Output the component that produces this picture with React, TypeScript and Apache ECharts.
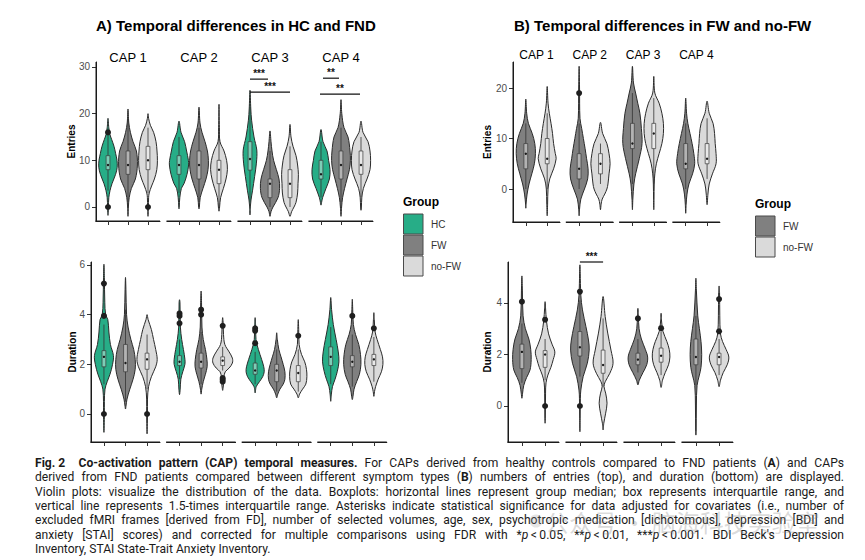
import React, { useEffect, useRef } from "react";
import * as echarts from "echarts";

type Profile = [number, number][]; // [value, half-width in category units], bottom tip -> top tip
type Box = [number, number, number, number, number]; // whisker low, q1, median, q3, whisker high

const capLabels = ["CAP 1", "CAP 2", "CAP 3", "CAP 4"];
const groupsA = ["HC", "FW", "no-FW"];
const groupsB = ["FW", "no-FW"];
const groupColors: Record<string, string> = { HC: "#27ad87", FW: "#808080", "no-FW": "#dadada" };

const entriesTicksA = [0, 10, 20, 30];
const durationTicksA = [0, 2, 4, 6];
const entriesTicksB = [0, 10, 20];
const durationTicksB = [0, 2, 4];

// ---------- A) entries: HC / FW / no-FW ----------
const entriesViolinsA: Profile[][] = [
  [
    [[-1.8, 0], [0, 0.02], [2, 0.04], [3.5, 0.1], [5, 0.2], [7, 0.38], [8.5, 0.46], [10, 0.45], [11.5, 0.38], [13, 0.3], [14.5, 0.18], [15.5, 0.1], [17, 0.04], [19, 0]],
    [[-2, 0], [0, 0.02], [2, 0.06], [4, 0.17], [6, 0.37], [9, 0.47], [12, 0.42], [14, 0.25], [16, 0.12], [18, 0.04], [21, 0]],
    [[-2, 0], [0, 0.02], [2, 0.03], [3, 0.06], [4.5, 0.18], [6, 0.32], [8, 0.44], [10, 0.47], [12, 0.45], [14, 0.4], [16, 0.28], [17.5, 0.12], [19, 0.03], [20, 0]],
  ],
  [
    [[-0.4, 0], [0, 0.01], [2, 0.04], [4, 0.12], [5, 0.25], [7, 0.4], [9, 0.48], [10, 0.47], [12, 0.38], [14, 0.28], [16, 0.1], [18.4, 0]],
    [[-0.4, 0], [0, 0.02], [2, 0.06], [4, 0.2], [6, 0.35], [8, 0.45], [10, 0.47], [12, 0.42], [14, 0.3], [16, 0.15], [18, 0.05], [21.4, 0]],
    [[-0.9, 0], [0, 0.03], [2, 0.08], [4, 0.22], [6, 0.35], [8, 0.42], [10, 0.38], [12, 0.25], [14, 0.05], [17, 0.02], [22, 0]],
  ],
  [
    [[-1.7, 0], [0, 0.015], [1.5, 0.05], [3.6, 0.13], [6.5, 0.23], [9.4, 0.32], [12.2, 0.34], [15, 0.2], [18.6, 0.08], [21, 0.04], [25, 0]],
    [[-2, 0], [-1, 0.05], [0, 0.15], [2, 0.4], [4, 0.48], [6, 0.45], [8, 0.32], [10, 0.18], [12, 0.1], [14, 0.05], [16.3, 0]],
    [[-2, 0], [-1, 0.08], [0, 0.2], [1, 0.3], [3, 0.38], [5, 0.4], [7, 0.42], [9, 0.38], [11, 0.3], [13, 0.15], [15, 0.05], [17.7, 0]],
  ],
  [
    [[0.4, 0], [1, 0.03], [2, 0.08], [4, 0.25], [6, 0.42], [8, 0.45], [10, 0.38], [12, 0.3], [14, 0.1], [16.6, 0]],
    [[-2, 0], [0, 0.03], [2, 0.08], [4, 0.18], [6, 0.3], [8, 0.42], [10, 0.47], [12, 0.45], [15, 0.35], [17, 0.15], [20, 0.04], [23, 0]],
    [[-0.7, 0], [0, 0.02], [2, 0.04], [4, 0.12], [6, 0.3], [8, 0.45], [10, 0.48], [12, 0.45], [14, 0.35], [16, 0.1], [18.4, 0]],
  ],
];
const entriesBoxesA: Box[][] = [
  [[3.5, 8, 9, 11, 15.5], [0, 7, 9, 12, 19], [3, 8, 10, 13, 17]],
  [[3, 7, 9, 11, 15], [1, 6, 9, 12, 17], [0, 5, 8, 10, 17]],
  [[1, 7.9, 10.3, 14, 22], [0, 2, 5, 6, 12], [0, 2, 5, 8, 13]],
  [[2, 6, 7, 10, 14], [1, 6, 9, 12, 17], [2, 7, 9, 12, 15]],
];
const entriesOutliersA: number[][][] = [
  [[0, 16], [], [0]],
  [[], [], []],
  [[], [], []],
  [[], [], []],
];
// [cap index, from, to, height, label]
const entriesSignifA: [number, number, number, number, string][] = [
  [2, 1, 1.9, 27.4, "***"],
  [2, 1, 3, 24.6, "***"],
  [3, 1.1, 1.9, 27.6, "**"],
  [3, 0.95, 2.95, 24.2, "**"],
];

// ---------- A) duration ----------
const durationViolinsA: Profile[][] = [
  [
    [[-0.74, 0], [0, 0.02], [0.5, 0.02], [1, 0.05], [1.3, 0.15], [1.6, 0.28], [2, 0.4], [2.35, 0.44], [2.8, 0.3], [3.3, 0.23], [3.8, 0.18], [4, 0.08], [4.5, 0.04], [5.5, 0.02], [6.03, 0]],
    [[0.2, 0], [0.3, 0.02], [0.6, 0.07], [1, 0.2], [1.4, 0.35], [1.8, 0.45], [2.2, 0.45], [2.6, 0.38], [3, 0.25], [3.5, 0.12], [4, 0.05], [5, 0.02], [5.5, 0]],
    [[-0.8, 0], [0, 0.02], [0.6, 0.02], [1.1, 0.07], [1.5, 0.2], [1.9, 0.4], [2.2, 0.47], [2.6, 0.4], [3, 0.3], [3.4, 0.2], [3.8, 0.05], [4, 0]],
  ],
  [
    [[0.78, 0], [1, 0.03], [1.4, 0.06], [1.7, 0.15], [2, 0.25], [2.2, 0.25], [2.6, 0.18], [3, 0.1], [3.5, 0.04], [4.5, 0.02], [4.6, 0]],
    [[0.8, 0], [1, 0.03], [1.3, 0.1], [1.6, 0.2], [1.9, 0.28], [2.2, 0.27], [2.6, 0.2], [3, 0.1], [3.5, 0.04], [4.5, 0.02], [4.95, 0]],
    [[0.95, 0], [1.05, 0.02], [1.2, 0.04], [1.5, 0.06], [1.7, 0.12], [1.85, 0.3], [2.05, 0.45], [2.25, 0.45], [2.5, 0.3], [2.8, 0.1], [3.2, 0.04], [3.7, 0.02], [3.88, 0]],
  ],
  [
    [[0.85, 0], [1.1, 0.05], [1.3, 0.2], [1.5, 0.35], [1.7, 0.42], [1.9, 0.4], [2.2, 0.3], [2.6, 0.15], [3, 0.04], [3.6, 0.02], [3.88, 0]],
    [[0.65, 0], [0.8, 0.05], [1, 0.15], [1.2, 0.3], [1.4, 0.38], [1.7, 0.38], [2, 0.3], [2.3, 0.2], [2.6, 0.1], [3, 0.03], [3.27, 0]],
    [[0.65, 0], [0.8, 0.06], [1, 0.2], [1.2, 0.35], [1.5, 0.4], [1.8, 0.38], [2.1, 0.3], [2.4, 0.15], [2.8, 0.04], [3.4, 0.02], [3.8, 0]],
  ],
  [
    [[0.51, 0], [0.8, 0.03], [1.1, 0.08], [1.4, 0.2], [1.7, 0.3], [2.1, 0.38], [2.5, 0.35], [3, 0.25], [3.6, 0.12], [4.2, 0.04], [4.69, 0]],
    [[0.58, 0], [0.7, 0.03], [1, 0.08], [1.3, 0.2], [1.6, 0.33], [2, 0.4], [2.4, 0.38], [2.8, 0.3], [3.2, 0.15], [3.6, 0.05], [4.2, 0.02], [4.62, 0]],
    [[0.71, 0], [0.9, 0.03], [1.1, 0.08], [1.4, 0.2], [1.7, 0.35], [2, 0.42], [2.3, 0.4], [2.6, 0.3], [3, 0.15], [3.3, 0.06], [3.8, 0.02], [4.08, 0]],
  ],
];
const durationBoxesA: Box[][] = [
  [[1.2, 1.9, 2.3, 2.55, 3.6], [0.5, 1.7, 2.05, 2.8, 4.2], [1, 1.8, 2.2, 2.45, 3.2]],
  [[1.4, 1.95, 2.1, 2.35, 3], [1.2, 1.85, 2.1, 2.45, 3.3], [1.75, 1.95, 2.15, 2.3, 2.7]],
  [[1.2, 1.6, 1.75, 2.05, 2.5], [0.9, 1.3, 1.75, 2, 2.6], [0.9, 1.3, 1.65, 1.95, 2.6]],
  [[1.2, 1.95, 2.3, 2.7, 3.5], [1.1, 1.9, 2.1, 2.35, 3.2], [1.3, 1.95, 2.2, 2.4, 3.1]],
];
const durationOutliersA: number[][][] = [
  [[0, 3.95, 5.25], [], [0]],
  [[3.65, 3.95, 4.05], [4, 4.2], [1.3, 1.38, 1.45, 3.55]],
  [[2.85, 3.35, 3.45], [], [3.15]],
  [[], [3.95], [3.45]],
];
const durationSignifA: [number, number, number, number, string][] = [];

// ---------- B) entries: FW / no-FW ----------
const entriesViolinsB: Profile[][] = [
  [
    [[-3.8, 0], [-3, 0.01], [-1, 0.06], [1, 0.15], [3, 0.28], [5, 0.4], [7, 0.45], [9, 0.42], [11, 0.3], [13, 0.12], [15, 0.04], [17.8, 0]],
    [[-5.3, 0], [-3, 0.02], [0, 0.04], [2, 0.12], [4, 0.3], [6, 0.42], [7, 0.38], [9, 0.3], [11, 0.25], [13, 0.18], [15, 0.1], [17, 0.04], [20.3, 0]],
  ],
  [
    [[-5.3, 0], [-4, 0.02], [-2, 0.08], [0, 0.25], [2, 0.4], [4, 0.42], [6, 0.35], [8, 0.28], [10, 0.2], [12, 0.12], [14, 0.04], [20, 0.02], [24.3, 0]],
    [[-4.1, 0], [-3, 0.03], [-2, 0.08], [-1, 0.2], [0, 0.3], [1, 0.35], [3, 0.4], [5, 0.45], [7, 0.4], [9, 0.3], [11, 0.1], [13.2, 0]],
  ],
  [
    [[-4.1, 0], [-2, 0.02], [1, 0.07], [3, 0.15], [6, 0.32], [9, 0.45], [12, 0.42], [15, 0.35], [17, 0.25], [19, 0.15], [21, 0.05], [24.3, 0]],
    [[-4.1, 0], [-2, 0.01], [1, 0.02], [3, 0.05], [5, 0.12], [7, 0.25], [9, 0.38], [11, 0.45], [13, 0.45], [15, 0.38], [17, 0.25], [19, 0.05], [22.3, 0]],
  ],
  [
    [[-4.8, 0], [-3, 0.02], [-1, 0.06], [1, 0.15], [3, 0.32], [5, 0.42], [7, 0.38], [9, 0.3], [11, 0.2], [13, 0.1], [15, 0.04], [18, 0]],
    [[-3.1, 0], [-1, 0.04], [1, 0.1], [3, 0.25], [5, 0.42], [7, 0.42], [9, 0.38], [11, 0.35], [13, 0.28], [15, 0.1], [17.4, 0]],
  ],
];
const entriesBoxesB: Box[][] = [
  [[0, 4, 7, 9, 13], [0, 5, 6, 10, 15]],
  [[0, 2, 4, 7, 13], [1, 3, 5, 7, 9]],
  [[1, 8, 9, 13, 19], [1, 8, 11, 13, 18]],
  [[0, 4, 5, 9, 13], [2, 5, 6, 9, 14]],
];
const entriesOutliersB: number[][][] = [
  [[], []],
  [[19], []],
  [[], []],
  [[], []],
];
const entriesSignifB: [number, number, number, number, string][] = [];

// ---------- B) duration ----------
const durationViolinsB: Profile[][] = [
  [
    [[0.3, 0], [0.5, 0.03], [0.8, 0.08], [1.1, 0.2], [1.4, 0.35], [1.8, 0.4], [2.2, 0.38], [2.6, 0.3], [3, 0.15], [3.5, 0.05], [4.5, 0.02], [5.05, 0]],
    [[-0.67, 0], [-0.5, 0.01], [0.5, 0.02], [0.9, 0.04], [1.2, 0.12], [1.5, 0.25], [1.8, 0.35], [2.1, 0.42], [2.4, 0.3], [2.8, 0.15], [3.3, 0.06], [3.8, 0.02], [4.05, 0]],
  ],
  [
    [[-1, 0], [-0.5, 0.01], [0.3, 0.02], [0.62, 0.04], [1.14, 0.14], [1.66, 0.32], [2.17, 0.4], [2.56, 0.37], [3.08, 0.26], [3.73, 0.11], [4.3, 0.04], [5.48, 0]],
    [[-0.93, 0], [-0.67, 0.03], [-0.28, 0.11], [0.11, 0.17], [0.5, 0.11], [0.75, 0.04], [0.94, 0.09], [1.27, 0.29], [1.66, 0.43], [2.17, 0.34], [2.83, 0.2], [3.47, 0.09], [4.25, 0]],
  ],
  [
    [[0.82, 0], [1, 0.06], [1.3, 0.22], [1.6, 0.38], [1.9, 0.42], [2.2, 0.32], [2.6, 0.15], [3, 0.05], [3.5, 0.02], [3.79, 0]],
    [[0.72, 0], [1, 0.06], [1.3, 0.18], [1.6, 0.32], [1.9, 0.38], [2.2, 0.35], [2.5, 0.25], [2.9, 0.08], [3.3, 0.02], [3.6, 0]],
  ],
  [
    [[-1.13, 0], [-1, 0.01], [0, 0.02], [0.8, 0.05], [1.2, 0.15], [1.5, 0.22], [2, 0.25], [2.5, 0.22], [3, 0.15], [3.5, 0.08], [4.5, 0.02], [4.96, 0]],
    [[0.75, 0], [1, 0.06], [1.3, 0.18], [1.6, 0.35], [1.9, 0.42], [2.2, 0.3], [2.5, 0.15], [2.8, 0.06], [3.5, 0.03], [4.4, 0.02], [4.66, 0]],
  ],
];
const durationBoxesB: Box[][] = [
  [[0.9, 1.45, 2.1, 2.4, 3.2], [1, 1.5, 2, 2.15, 2.6]],
  [[1.14, 1.94, 2.28, 2.89, 4.1], [0.75, 1.27, 1.59, 2.17, 3.4]],
  [[1.3, 1.6, 1.8, 2.05, 2.6], [1.2, 1.7, 1.95, 2.25, 2.9]],
  [[0.8, 1.6, 1.9, 2.6, 3.5], [1.2, 1.6, 1.9, 2.05, 2.6]],
];
const durationOutliersB: number[][][] = [
  [[4.05], [0, 3.35]],
  [[0, 4.44], []],
  [[3.4], [3.02]],
  [[], [2.9, 4.15]],
];
const durationSignifB: [number, number, number, number, string][] = [[1, 1, 2, 5.59, "***"]];

// ---------- caption (^ toggles bold, _ toggles italic) ----------
const captionLines = [
  "^Fig.\u00a02\u2002 Co-activation pattern (CAP) temporal measures.^ For CAPs derived from healthy controls compared to FND patients (^A^) and CAPs",
  "derived from FND patients compared between different symptom types (^B^) numbers of entries (top), and duration (bottom) are displayed.",
  "Violin plots: visualize the distribution of the data. Boxplots: horizontal lines represent group median; box represents interquartile range, and",
  "vertical line represents 1.5-times interquartile range. Asterisks indicate statistical significance for data adjusted for covariates (i.e., number of",
  "excluded fMRI frames [derived from FD], number of selected volumes, age, sex, psychotropic medication [dichotomous], depression [BDI] and",
  "anxiety [STAI] scores) and corrected for multiple comparisons using FDR with *_p_\u2009<\u20090.05, **_p_\u2009<\u20090.01, ***_p_\u2009<\u20090.001. BDI Beck's Depression",
  "Inventory, STAI State-Trait Anxiety Inventory.",
];

const FONT = "'Liberation Sans', Arial, Helvetica, sans-serif";
const CAPTION_FAMILY = "Roboto";
const CAPTION_FONT = "Roboto, 'Noto Sans', sans-serif";

type Row = {
  groups: string[];
  violins: Profile[][];
  boxes: Box[][];
  outliers: number[][][];
  signif: [number, number, number, number, string][];
  ticks: number[];
  yMin: number;
  yMax: number;
  left: number;
  step: number;
  width: number;
  top: number;
  height: number;
  axisTitle: string;
  axisTitleX: number;
};

const rows: Row[] = [
  { groups: groupsA, violins: entriesViolinsA, boxes: entriesBoxesA, outliers: entriesOutliersA, signif: entriesSignifA, ticks: entriesTicksA,
    yMin: -3, yMax: 31.07, left: 96, step: 71, width: 64, top: 62, height: 159, axisTitle: "Entries", axisTitleX: 71 },
  { groups: groupsA, violins: durationViolinsA, boxes: durationBoxesA, outliers: durationOutliersA, signif: durationSignifA, ticks: durationTicksA,
    yMin: -1.128, yMax: 6.12, left: 91, step: 75.6, width: 69, top: 262, height: 180, axisTitle: "Duration", axisTitleX: 72 },
  { groups: groupsB, violins: entriesViolinsB, boxes: entriesBoxesB, outliers: entriesOutliersB, signif: entriesSignifB, ticks: entriesTicksB,
    yMin: -6.53, yMax: 25.15, left: 513, step: 53.3, width: 47, top: 62, height: 160, axisTitle: "Entries", axisTitleX: 487 },
  { groups: groupsB, violins: durationViolinsB, boxes: durationBoxesB, outliers: durationOutliersB, signif: durationSignifB, ticks: durationTicksB,
    yMin: -1.398, yMax: 5.59, left: 508, step: 58, width: 51, top: 262, height: 180, axisTitle: "Duration", axisTitleX: 487 },
];

type Seg = { t: string; b: boolean; i: boolean };

function parseCaptionLine(s: string): Seg[][] {
  const words: Seg[][] = [];
  let cur: Seg[] = [];
  let seg = "";
  let b = false;
  let it = false;
  const flush = () => {
    if (seg) {
      cur.push({ t: seg, b, i: it });
      seg = "";
    }
  };
  for (const ch of s) {
    if (ch === "^") { flush(); b = !b; continue; }
    if (ch === "_") { flush(); it = !it; continue; }
    if (ch === " ") { flush(); if (cur.length) words.push(cur); cur = []; continue; }
    seg += ch;
  }
  flush();
  if (cur.length) words.push(cur);
  return words;
}

// Caption words are placed one by one so that every full line is justified.
function buildCaption(): any[] {
  const x0 = 35;
  const x1 = 844;
  const y0 = 463;
  const lineGap = 14.3;
  const base = 12;
  const canvas = document.createElement("canvas");
  const ctx = canvas.getContext("2d")!;
  const fontOf = (sg: Seg, size: number) =>
    `${sg.i ? "italic " : ""}${sg.b ? "bold " : ""}${size}px ${CAPTION_FAMILY}`;
  const measure = (sg: Seg, size: number) => {
    ctx.font = fontOf(sg, size);
    return ctx.measureText(sg.t).width;
  };
  const parsed = captionLines.map(parseCaptionLine);
  ctx.font = `${base}px ${CAPTION_FAMILY}`;
  const space = ctx.measureText(" ").width;
  let ratio = 1.1;
  parsed.forEach((words, li) => {
    if (li === parsed.length - 1) return;
    const w = words.reduce((a, wd) => a + wd.reduce((s2, sg) => s2 + measure(sg, base), 0), 0);
    const natural = w + space * 0.8 * (words.length - 1);
    ratio = Math.min(ratio, (x1 - x0) / natural);
  });
  const size = Math.min(base * ratio, 12.1);
  const spaceAt = (space * size) / base;
  const out: any[] = [];
  parsed.forEach((words, li) => {
    const widths = words.map((wd) => wd.map((sg) => measure(sg, size)));
    const total = widths.reduce((a, ws) => a + ws.reduce((s2, v) => s2 + v, 0), 0);
    const last = li === parsed.length - 1;
    const gap = last ? spaceAt : (x1 - x0 - total) / (words.length - 1);
    let x = x0;
    const y = y0 + li * lineGap;
    words.forEach((wd, wi) => {
      wd.forEach((sg, si) => {
        out.push({
          type: "text",
          x,
          y,
          silent: true,
          style: {
            text: sg.t,
            fontSize: size,
            fontFamily: CAPTION_FONT,
            fontWeight: sg.b ? "bold" : "normal",
            fontStyle: sg.i ? "italic" : "normal",
            lineHeight: 12,
            fill: "#1a1a1a",
            textVerticalAlign: "middle",
            verticalAlign: "middle",
          },
        });
        x += widths[wi][si];
      });
      x += gap;
    });
  });
  return out;
}

function textEl(text: string, x: number, y: number, opts: any = {}) {
  return {
    type: "text",
    x,
    y,
    rotation: opts.rotation || 0,
    silent: true,
    style: {
      text,
      fontSize: opts.size || 12,
      fontFamily: opts.family || FONT,
      fontWeight: opts.bold ? "bold" : "normal",
      fill: opts.color || "#000",
      textAlign: opts.align || "left",
      align: opts.align || "left",
      textVerticalAlign: "middle",
      verticalAlign: "middle",
    },
  };
}

function buildOption(): any {
  const grid: any[] = [];
  const xAxis: any[] = [];
  const yAxis: any[] = [];
  const series: any[] = [];
  const graphic: any[] = [];

  rows.forEach((row) => {
    const n = row.groups.length;
    capLabels.forEach((cap, c) => {
      const gi = grid.length;
      const left = row.left + c * row.step;
      grid.push({ left, top: row.top, width: row.width, height: row.height, containLabel: false });
      xAxis.push({
        type: "value",
        gridIndex: gi,
        min: 0.4,
        max: n + 0.6,
        axisLine: { show: true, onZero: false, lineStyle: { color: "#1a1a1a", width: 1 } },
        axisTick: { show: true, length: 4, customValues: row.groups.map((_, i) => i + 1), lineStyle: { color: "#333", width: 1 } },
        axisLabel: { show: false },
        splitLine: { show: false },
      });
      yAxis.push({
        type: "value",
        gridIndex: gi,
        min: row.yMin,
        max: row.yMax,
        show: c === 0,
        axisLine: { show: true, onZero: false, lineStyle: { color: "#1a1a1a", width: 1 } },
        axisTick: { show: true, length: 4, customValues: row.ticks, lineStyle: { color: "#333", width: 1 } },
        axisLabel: { show: true, customValues: row.ticks, margin: 6, color: "#4d4d4d", fontSize: 10, fontFamily: FONT },
        splitLine: { show: false },
      });

      // panel frame: bottom axis line on every facet, left axis line on the first one
      series.push({
        type: "custom",
        xAxisIndex: gi,
        yAxisIndex: gi,
        clip: false,
        silent: true,
        data: [[0.4, row.yMin]],
        renderItem: (_params: any, api: any) => {
          const o = api.coord([0.4, row.yMin]);
          const r = api.coord([n + 0.6, row.yMin]);
          const t = api.coord([0.4, row.yMax]);
          const children: any[] = [
            { type: "line", shape: { x1: o[0] - 0.5, y1: o[1], x2: r[0], y2: r[1] }, style: { stroke: "#1a1a1a", lineWidth: 1 } },
          ];
          if (c === 0) {
            children.push({ type: "line", shape: { x1: o[0], y1: o[1] + 0.5, x2: t[0], y2: t[1] }, style: { stroke: "#1a1a1a", lineWidth: 1 } });
          }
          return { type: "group", children };
        },
      });

      const profiles = row.violins[c];
      const boxes = row.boxes[c];
      const outs = row.outliers[c];
      series.push({
        type: "custom",
        xAxisIndex: gi,
        yAxisIndex: gi,
        clip: false,
        data: row.groups.map((_, i) => [i + 1, boxes[i][2]]),
        renderItem: (params: any, api: any) => {
          const i = params.dataIndex;
          const cx = i + 1;
          const prof = profiles[i];
          const right = prof.map(([v, w]) => api.coord([cx + w, v]));
          const left = prof
            .slice(1, prof.length - 1)
            .reverse()
            .map(([v, w]) => api.coord([cx - w, v]));
          const pts = right.concat(left);
          const [lo, q1, med, q3, hi] = boxes[i];
          const px = api.coord([cx, med])[0];
          const yLo = api.coord([cx, lo])[1];
          const yQ1 = api.coord([cx, q1])[1];
          const yMed = api.coord([cx, med])[1];
          const yQ3 = api.coord([cx, q3])[1];
          const yHi = api.coord([cx, hi])[1];
          const bw = 1.9;
          const children: any[] = [
            {
              type: "polygon",
              shape: { points: pts, smooth: 0.35 },
              style: { fill: groupColors[row.groups[i]], stroke: "#2b2b2b", lineWidth: 1 },
            },
            { type: "line", shape: { x1: px, y1: yLo, x2: px, y2: yQ1 }, style: { stroke: "#333", lineWidth: 0.8 } },
            { type: "line", shape: { x1: px, y1: yQ3, x2: px, y2: yHi }, style: { stroke: "#333", lineWidth: 0.8 } },
            {
              type: "rect",
              shape: { x: px - bw, y: yQ3, width: bw * 2, height: yQ1 - yQ3 },
              style: { fill: "rgba(255,255,255,0.4)", stroke: "#3a3a3a", lineWidth: 0.7 },
            },
            { type: "circle", shape: { cx: px, cy: yMed, r: 1.2 }, style: { fill: "#1a1a1a" } },
          ];
          outs[i].forEach((v) => {
            const p = api.coord([cx, v]);
            children.push({ type: "circle", shape: { cx: p[0], cy: p[1], r: 3 }, style: { fill: "#1f1f1f" } });
          });
          return { type: "group", children };
        },
      });

      const sig = row.signif.filter((s) => s[0] === c);
      if (sig.length) {
        series.push({
          type: "custom",
          xAxisIndex: gi,
          yAxisIndex: gi,
          clip: false,
          data: sig.map((s) => [s[1], s[3], s[2]]),
          renderItem: (params: any, api: any) => {
            const s = sig[params.dataIndex];
            const a = api.coord([s[1], s[3]]);
            const b = api.coord([s[2], s[3]]);
            return {
              type: "group",
              children: [
                { type: "line", shape: { x1: a[0], y1: a[1], x2: b[0], y2: b[1] }, style: { stroke: "#111", lineWidth: 1.2 } },
                {
                  type: "text",
                  x: (a[0] + b[0]) / 2,
                  y: a[1] - 1,
                  style: {
                    text: s[4],
                    fontSize: 10,
                    fontWeight: "bold",
                    fontFamily: FONT,
                    fill: "#111",
                    textAlign: "center",
                    align: "center",
                    textVerticalAlign: "bottom",
                    verticalAlign: "bottom",
                  },
                },
              ],
            };
          },
        });
      }

      // strip labels above the top row of facets
      if (row.top === 62) {
        const isA = row.groups.length === 3;
        graphic.push(textEl(cap, left + row.width / 2, isA ? 57 : 55, { size: isA ? 13 : 12, align: "center" }));
      }
    });
    graphic.push(
      textEl(row.axisTitle, row.axisTitleX, row.top + row.height / 2, { size: 10, bold: true, rotation: Math.PI / 2, align: "center" })
    );
  });

  // panel titles
  graphic.push(textEl("A) Temporal differences in HC and FND", 96, 25, { size: 15, bold: true }));
  graphic.push(textEl("B) Temporal differences in FW and no-FW", 514, 25, { size: 15, bold: true }));

  // legends
  const legend = (x: number, y: number, groups: string[]) => {
    graphic.push(textEl("Group", x, y, { size: 12, bold: true }));
    groups.forEach((g, i) => {
      const top = y + 12 + i * 21;
      graphic.push({
        type: "rect",
        silent: true,
        shape: { x: x + 0.5, y: top, width: 19.5, height: 20 },
        style: { fill: groupColors[g], stroke: "#4a4a4a", lineWidth: 1 },
      });
      graphic.push(textEl(g, x + 28, top + 10, { size: 10, color: "#333" }));
    });
  };
  legend(403, 202, groupsA);
  legend(755, 204, groupsB);

  graphic.push(...buildCaption());

  // faint watermark over the caption
  graphic.push({
    type: "circle",
    silent: true,
    shape: { cx: 536, cy: 521, r: 6.5 },
    style: { fill: "rgba(150,150,150,0.25)" },
  });
  graphic.push(textEl("公众号 · 脑海科技实验室", 545, 521, { size: 24, family: "'Noto Sans CJK SC'", color: "rgba(140,140,140,0.32)" }));

  return {
    animation: false,
    backgroundColor: "#ffffff",
    textStyle: { fontFamily: FONT },
    grid,
    xAxis,
    yAxis,
    series,
    graphic,
  };
}

export default function App() {
  const ref = useRef<HTMLDivElement>(null);
  useEffect(() => {
    if (!ref.current) return;
    const chart = echarts.init(ref.current, undefined, { renderer: "svg" });
    chart.setOption(buildOption());
    return () => chart.dispose();
  }, []);
  return <div ref={ref} style={{ width: 865, height: 560, position: "absolute", left: 0, top: 0 }} />;
}
